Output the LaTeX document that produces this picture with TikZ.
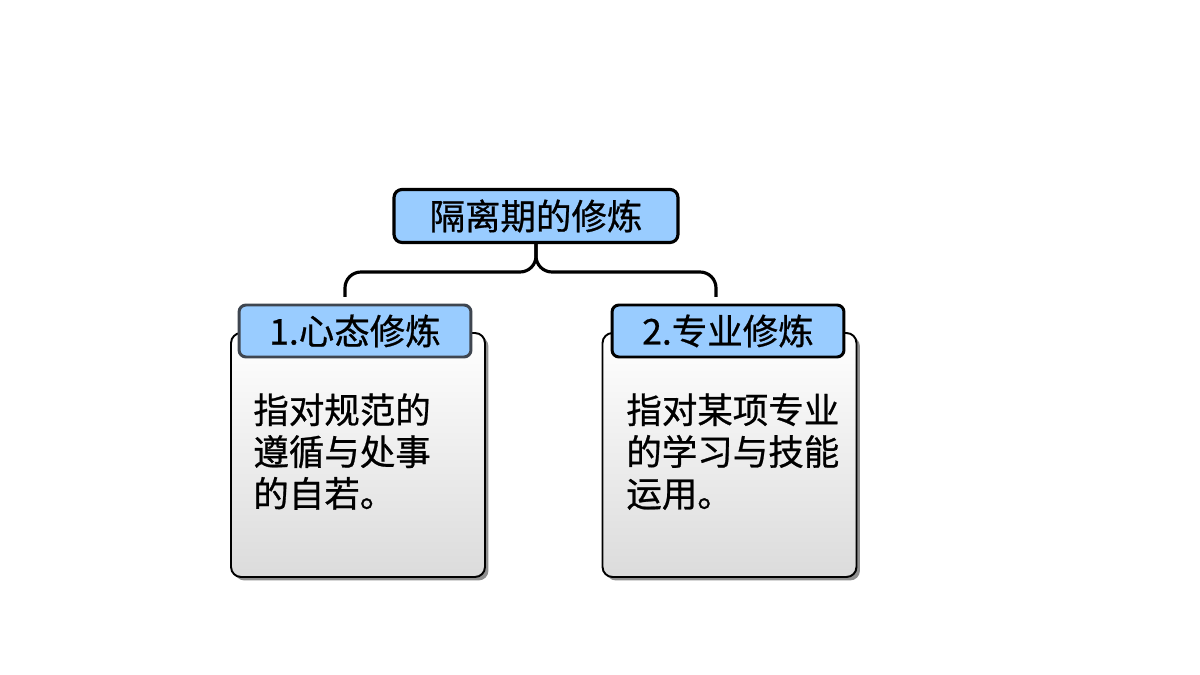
\documentclass[tikz,border=0pt]{standalone}
\usepackage{fontspec}
\setmainfont{Noto Sans CJK SC}[FakeBold=0.7]
\usetikzlibrary{positioning, shadows, calc}
\definecolor{skyblue}{HTML}{99CCFF}
\definecolor{hdredge}{HTML}{3F4650}

\begin{document}
\begin{tikzpicture}[
    x=0.02cm, y=-0.02cm,
    every node/.style={font=\fontsize{20.2pt}{23.8pt}\selectfont},
    titlebox/.style={draw, line width=1.8pt, rounded corners=0.16cm, fill=skyblue, minimum width=5.68cm, minimum height=1.06cm, inner sep=0pt},
    hdr/.style={draw, line width=1.7pt, rounded corners=0.14cm, fill=skyblue, minimum width=4.64cm, minimum height=1.04cm, inner sep=0pt},
    card/.style={draw, line width=1.1pt, rounded corners=0.2cm, top color=white, bottom color=black!14, minimum width=5.08cm, minimum height=4.88cm, inner sep=0pt,
        drop shadow={shadow xshift=0.07cm, shadow yshift=-0.07cm, fill=black!55, opacity=0.8}},
    body/.style={align=left, anchor=north west, inner sep=0pt},
    link/.style={draw, line width=1.8pt, rounded corners=0.32cm},
]
\useasboundingbox (0,0) rectangle (1200,675);

% ── Title ──
\node[titlebox] (title) at (536,216) {隔离期的修炼};

% ── Cards ──
\node[card] (cardA) at (358,455) {};
\node[hdr, draw=hdredge] (hdrA) at (355,331) {1.心态修炼};
\node[body] (txtA) at (253,393) {指对规范的\\遵循与处事\\的自若。};

\node[card] (cardB) at (729.5,455) {};
\node[hdr] (hdrB) at (728,331) {2.专业修炼};
\node[body] (txtB) at (626,393) {指对某项专业\\的学习与技能\\运用。};

% ── Brace ──
\coordinate (bar) at (536,272);
\coordinate (legA) at (345,297);
\coordinate (legB) at (716,297);
\draw[link] (title.south) -- (bar) -| (legA);
\draw[link] (title.south) -- (bar) -| (legB);

\end{tikzpicture}
\end{document}
